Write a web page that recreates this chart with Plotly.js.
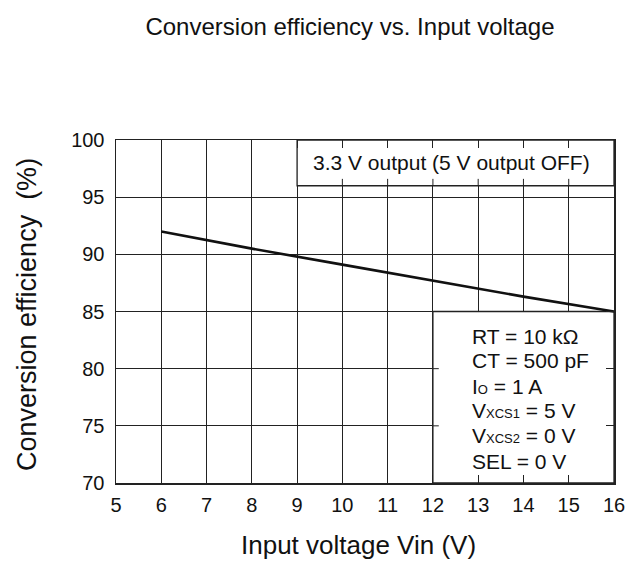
<!DOCTYPE html>
<html>
<head>
<meta charset="utf-8">
<script src="https://cdn.plot.ly/plotly-3.0.1.min.js"></script>
<style>html,body{margin:0;padding:0;background:#fff;}#chart{width:628px;height:562px;}</style>
</head>
<body>
<div id="chart"></div>
<script>
// Data
const inputVoltage = [6, 8, 10, 12, 14, 16];
const efficiency = [92.0, 90.5, 89.1, 87.7, 86.3, 85.0];
const xTicks = [5, 6, 7, 8, 9, 10, 11, 12, 13, 14, 15, 16];
const yTicks = [70, 75, 80, 85, 90, 95, 100];
const conditionLines = [
  "RT = 10 kΩ",
  "CT = 500 pF",
  "I<span style='font-size:13px'>O</span> = 1 A",
  "V<span style='font-size:13px'>XCS1</span> = 5 V",
  "V<span style='font-size:13px'>XCS2</span> = 0 V",
  "SEL = 0 V"
];
const headerNote = "3.3 V output (5 V output OFF)";
const chartTitle = "Conversion efficiency vs. Input voltage";
const xTitle = "Input voltage Vin (V)";
const yTitle = "Conversion efficiency  (%)";

const font = "Liberation Sans, Arial, sans-serif";

const trace = {
  x: inputVoltage, y: efficiency, type: "scatter", mode: "lines",
  line: {color: "#111", width: 2.6}, hoverinfo: "skip", showlegend: false
};

const shapes = [
  {type: "rect", xref: "x", yref: "y", x0: 9, x1: 16, y0: 96, y1: 100,
   fillcolor: "#fff", line: {color: "#222", width: 1.3}, layer: "between"},
  {type: "rect", xref: "x", yref: "y", x0: 12, x1: 16, y0: 70, y1: 85,
   fillcolor: "#fff", line: {color: "#222", width: 1.3}, layer: "between"}
];
// small tick stubs along inner box edges
[10, 11, 12, 13, 14, 15].forEach(v => shapes.push({
  type: "line", xref: "x", yref: "y", x0: v, x1: v, y0: 96, y1: 96.6,
  line: {color: "#222", width: 1}, layer: "between"}));
[75, 80].forEach(v => shapes.push({
  type: "line", xref: "x", yref: "y", x0: 12, x1: 12.13, y0: v, y1: v,
  line: {color: "#222", width: 1}, layer: "between"}));

const annotations = [
  {text: headerNote, xref: "x", yref: "y", x: 12.42, y: 98, showarrow: false,
   xanchor: "center", yanchor: "middle", font: {family: font, size: 21, color: "#111"}},
  {text: xTitle, xref: "paper", yref: "paper", x: (358 - 116) / 498, y: (483 - 545) / 343,
   showarrow: false, xanchor: "center", yanchor: "middle",
   font: {family: font, size: 26, color: "#111"}},
  {text: yTitle, xref: "paper", yref: "paper", x: (27 - 116) / 498, y: (483 - 315) / 343,
   textangle: -90, showarrow: false, xanchor: "center", yanchor: "middle",
   font: {family: font, size: 27, color: "#111"}}
];
const lineY = [336, 360, 386, 410, 435, 461];
conditionLines.forEach((t, i) => annotations.push({
  text: t, xref: "paper", yref: "paper", x: (470 - 116) / 498, y: (483 - lineY[i]) / 343,
  showarrow: false, xanchor: "left", yanchor: "middle",
  font: {family: font, size: 21, color: "#111"}
}));

const layout = {
  width: 628, height: 562,
  margin: {l: 116, r: 14, t: 140, b: 79},
  paper_bgcolor: "#fff", plot_bgcolor: "#fff",
  font: {family: font, color: "#111"},
  title: {text: chartTitle, x: 350 / 628, xanchor: "center",
          y: 1 - 27 / 562, yanchor: "middle", font: {family: font, size: 24, color: "#111"}},
  xaxis: {
    range: [5, 16], tickvals: xTicks, ticktext: xTicks.map(String),
    showgrid: true, gridcolor: "#222", gridwidth: 1,
    zeroline: false, showline: true, linecolor: "#222", linewidth: 1.5, mirror: "ticks",
    ticks: "inside", ticklen: 8, tickcolor: "#222", tickwidth: 1,
    ticklabelstandoff: 3,
    tickfont: {family: font, size: 20, color: "#111"}
  },
  yaxis: {
    range: [70, 100], tickvals: yTicks, ticktext: yTicks.map(String),
    showgrid: true, gridcolor: "#222", gridwidth: 1,
    zeroline: false, showline: true, linecolor: "#222", linewidth: 1.5, mirror: "ticks",
    ticks: "inside", ticklen: 8, tickcolor: "#222", tickwidth: 1,
    ticklabelstandoff: 6,
    tickfont: {family: font, size: 20, color: "#111"}
  },
  shapes: shapes,
  annotations: annotations
};

Plotly.newPlot("chart", [trace], layout, {staticPlot: true, displayModeBar: false});
</script>
</body>
</html>
